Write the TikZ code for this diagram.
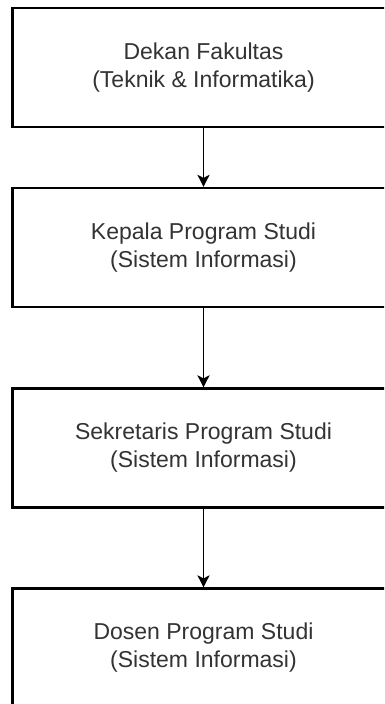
\documentclass[tikz,border=0pt]{standalone}
\usepackage{fontspec}
\setmainfont{Liberation Sans}
\usetikzlibrary{arrows.meta}
\definecolor{txt}{HTML}{333333}
\tikzset{
  orgbox/.style={draw=black, line width=2.2pt, minimum width=382pt, minimum height=119pt,
    align=center, text=txt, font=\fontsize{23}{28}\selectfont, inner sep=0pt},
  link/.style={draw=black, line width=1.8pt, -{Stealth[width=12pt,length=12pt,inset=3pt]}}
}
\begin{document}
\begin{tikzpicture}[x=1pt,y=-1pt]
\clip (0,0) rectangle (384,704);
\fill[white] (0,0) rectangle (384,704);
\node[orgbox] (b1) at (203.5,67.5) {Dekan Fakultas\\(Teknik \& Informatika)};
\node[orgbox] (b2) at (203.5,247.5) {Kepala Program Studi\\(Sistem Informasi)};
\node[orgbox] (b3) at (203.5,448) {Sekretaris Program Studi\\(Sistem Informasi)};
\node[orgbox] (b4) at (203.5,648) {Dosen Program Studi\\(Sistem Informasi)};
\draw[link] (b1) -- (b2);
\draw[link] (b2) -- (b3);
\draw[link] (b3) -- (b4);
\end{tikzpicture}
\end{document}
